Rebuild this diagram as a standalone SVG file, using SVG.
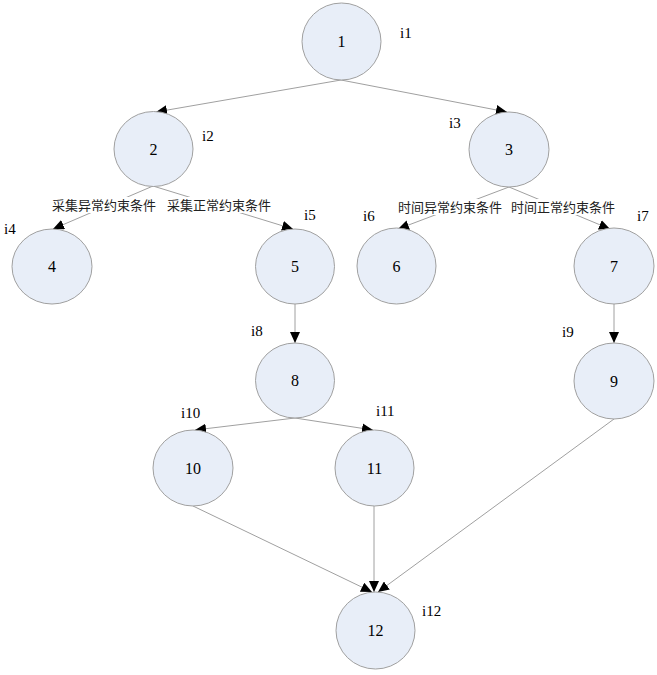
<svg xmlns="http://www.w3.org/2000/svg" width="657" height="675" viewBox="0 0 657 675">
<style>
.n ellipse{fill:#E8EEF8;stroke:#A0A0A0;stroke-width:1}
.n text{font-family:'Liberation Serif','DejaVu Serif',serif;font-size:16px;text-anchor:middle;dominant-baseline:central;fill:#000}
.lbl text{font-family:'Liberation Serif','DejaVu Serif',serif;font-size:15px;fill:#000}
.e line{stroke:#A0A0A0;stroke-width:1;fill:none}
.el{font-family:'Liberation Serif','Noto Sans CJK SC',serif;font-size:13px;text-anchor:middle;dominant-baseline:central;fill:#222}
</style>
<defs>
<marker id="ah" markerWidth="12" markerHeight="10" refX="11" refY="5" orient="auto" markerUnits="userSpaceOnUse">
<path d="M0,0 L11,5 L0,10 Z" fill="#000"/>
</marker>
</defs>
<rect width="657" height="675" fill="#fff"/>
<g id="connectors" class="e">
<line x1="341" y1="80" x2="156" y2="112" marker-end="url(#ah)"/>
<line x1="341" y1="80" x2="507" y2="112" marker-end="url(#ah)"/>
<line x1="153" y1="186" x2="53" y2="229" marker-end="url(#ah)"/>
<line x1="153" y1="186" x2="293" y2="229" marker-end="url(#ah)"/>
<line x1="509" y1="187" x2="398" y2="229" marker-end="url(#ah)"/>
<line x1="509" y1="187" x2="610" y2="229" marker-end="url(#ah)"/>
<line x1="295" y1="304" x2="295" y2="343" marker-end="url(#ah)"/>
<line x1="614" y1="304" x2="614" y2="343" marker-end="url(#ah)"/>
<line x1="295" y1="418" x2="195" y2="430" marker-end="url(#ah)"/>
<line x1="295" y1="418" x2="373" y2="430" marker-end="url(#ah)"/>
<line x1="193" y1="506" x2="372" y2="592" marker-end="url(#ah)"/>
<line x1="374" y1="506" x2="374" y2="592" marker-end="url(#ah)"/>
<line x1="614" y1="419" x2="378" y2="592" marker-end="url(#ah)"/>
<rect x="53" y="197" width="102" height="16" fill="#fff"/>
<rect x="169" y="197" width="100" height="16" fill="#fff"/>
<rect x="400" y="199" width="100" height="16" fill="#fff"/>
<rect x="513" y="199" width="101" height="16" fill="#fff"/>
<text class="el" x="104" y="205">采集异常约束条件</text>
<text class="el" x="219" y="205">采集正常约束条件</text>
<text class="el" x="450" y="207">时间异常约束条件</text>
<text class="el" x="563" y="207">时间正常约束条件</text>
</g>
<g id="n1" class="n"><ellipse cx="341.5" cy="41.5" rx="39.5" ry="38.5"/><text x="341.5" y="41.5">1</text></g>
<g id="n2" class="n"><ellipse cx="153.5" cy="149" rx="39.5" ry="37.5"/><text x="153.5" y="149">2</text></g>
<g id="n3" class="n"><ellipse cx="509" cy="149.5" rx="40" ry="37.5"/><text x="509" y="149.5">3</text></g>
<g id="n4" class="n"><ellipse cx="52" cy="266.5" rx="40" ry="37.5"/><text x="52" y="266.5">4</text></g>
<g id="n5" class="n"><ellipse cx="295" cy="266.5" rx="39.5" ry="37.5"/><text x="295" y="266.5">5</text></g>
<g id="n6" class="n"><ellipse cx="396.5" cy="266" rx="39.5" ry="38"/><text x="396.5" y="266">6</text></g>
<g id="n7" class="n"><ellipse cx="614" cy="266" rx="40" ry="38"/><text x="614" y="266">7</text></g>
<g id="n8" class="n"><ellipse cx="295" cy="380.5" rx="39.5" ry="37.5"/><text x="295" y="380.5">8</text></g>
<g id="n9" class="n"><ellipse cx="614" cy="381" rx="40" ry="38"/><text x="614" y="381">9</text></g>
<g id="n10" class="n"><ellipse cx="193" cy="468" rx="40" ry="38"/><text x="193" y="468">10</text></g>
<g id="n11" class="n"><ellipse cx="374.5" cy="468" rx="39.5" ry="38"/><text x="374.5" y="468">11</text></g>
<g id="n12" class="n"><ellipse cx="375.5" cy="630.5" rx="39.5" ry="38.5"/><text x="375.5" y="630.5">12</text></g>
<g id="labels" class="lbl">
<text x="400" y="38">i1</text>
<text x="202" y="141">i2</text>
<text x="449" y="128">i3</text>
<text x="4" y="234">i4</text>
<text x="304" y="220">i5</text>
<text x="363" y="221">i6</text>
<text x="637" y="221">i7</text>
<text x="251" y="336">i8</text>
<text x="562" y="337">i9</text>
<text x="181" y="418">i10</text>
<text x="376" y="416">i11</text>
<text x="422" y="616">i12</text>
</g>
</svg>
